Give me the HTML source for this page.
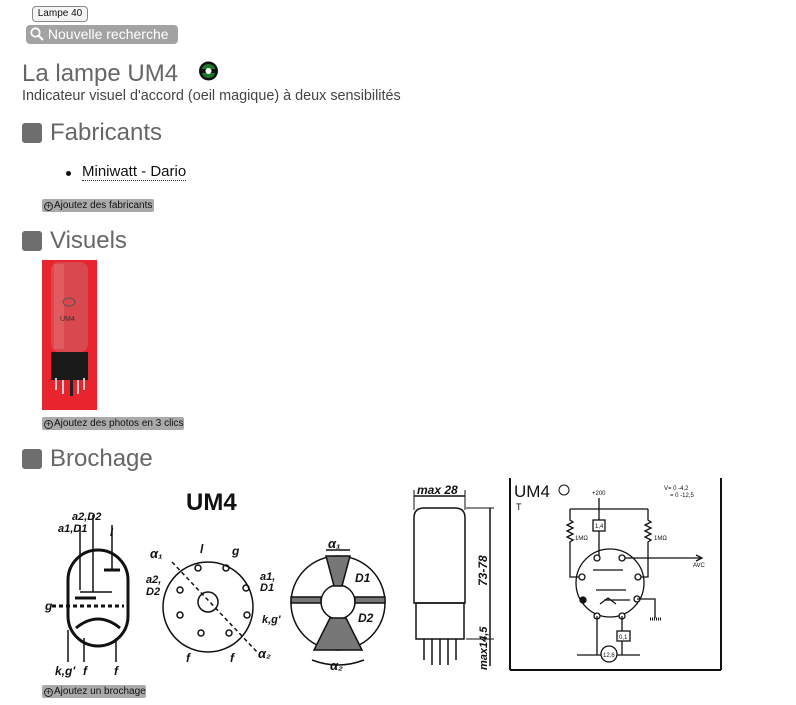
<!DOCTYPE html>
<html><head><meta charset="utf-8"><style>
*{margin:0;padding:0;box-sizing:border-box}
body{width:796px;height:705px;background:#fff;font-family:"Liberation Sans",Arial,sans-serif;position:relative;overflow:hidden;color:#333}
.a{position:absolute;white-space:nowrap}
.h{font-size:24px;color:#666;line-height:1}
.sq{position:absolute;width:20px;height:20px;background:#6e6e6e;border-radius:3px}
.btn{position:absolute;background:#aaa;color:#111;font-size:10px;height:13px;line-height:13px;padding:0 2px;border-radius:2px;white-space:nowrap}
.btn i{display:inline-block;width:9px;height:9px;border:1px solid #222;border-radius:50%;font-style:normal;font-size:9px;line-height:7px;text-align:center;margin-right:1px;vertical-align:-1px}
</style></head><body>
<div class="a" style="left:32px;top:6px;width:56px;height:16px;border:1px solid #888;border-radius:4px;background:#f4f4f4;font-size:10px;line-height:14px;text-align:center;color:#111">Lampe 40</div>
<div class="a" style="left:26px;top:25px;width:152px;height:19px;background:#a3a3a3;border-radius:4px;color:#fff;font-size:14px;line-height:19px;padding-left:4px">
<svg width="14" height="14" style="vertical-align:-2px" viewBox="0 0 14 14"><circle cx="5.5" cy="5.5" r="4.2" fill="none" stroke="#fff" stroke-width="1.8"/><line x1="8.5" y1="8.5" x2="13" y2="13" stroke="#fff" stroke-width="2"/></svg> Nouvelle recherche</div>
<div class="a" style="left:22px;top:60px;font-size:24px;color:#666;line-height:28px">La lampe UM4</div>
<svg class="a" style="left:198px;top:61px" width="21" height="20"><circle cx="10.5" cy="10" r="9.5" fill="#111"/><circle cx="10.5" cy="10" r="7" fill="#1e7a2a"/><rect x="3" y="8" width="15" height="4" fill="#111"/><circle cx="10.5" cy="10" r="3" fill="#fff"/></svg>
<div class="a" style="left:22px;top:88px;font-size:14.4px;color:#444">Indicateur visuel d'accord (oeil magique) à deux sensibilités</div>

<div class="sq" style="left:22px;top:123px"></div><div class="a h" style="left:50px;top:121px">Fabricants</div>
<div class="a" style="left:66px;top:171px;width:5px;height:5px;border-radius:50%;background:#111"></div>
<div class="a" style="left:82px;top:163px;font-size:15px;color:#111;border-bottom:1px dotted #226">Miniwatt - Dario</div>
<div class="btn" style="left:42px;top:199px;width:112px"><i>+</i>Ajoutez des fabricants</div>

<div class="sq" style="left:22px;top:231px"></div><div class="a h" style="left:50px;top:229px">Visuels</div>
<svg class="a" style="left:42px;top:260px" width="55" height="150">
<rect width="55" height="150" fill="#e8252e"/>
<rect x="9" y="2" width="37" height="90" rx="8" fill="#d8484e"/>
<rect x="12" y="4" width="10" height="85" fill="#e66a6e" opacity=".6"/>
<text x="18" y="61" font-size="7" font-family="Liberation Sans" fill="#333">UM4</text>
<ellipse cx="27" cy="42" rx="6" ry="4" fill="none" stroke="#555"/>
<rect x="9" y="92" width="37" height="28" fill="#1a1a1a"/>
<rect x="13" y="118" width="2" height="12" fill="#ccc"/><rect x="20" y="120" width="2" height="14" fill="#ccc"/><rect x="28" y="120" width="3" height="16" fill="#222"/><rect x="35" y="120" width="2" height="14" fill="#ccc"/><rect x="41" y="118" width="2" height="12" fill="#ccc"/>
</svg>
<div class="btn" style="left:42px;top:417px;width:142px"><i>+</i>Ajoutez des photos en 3 clics</div>

<div class="sq" style="left:22px;top:449px"></div><div class="a h" style="left:50px;top:447px">Brochage</div>

<svg class="a" style="left:0;top:470px" width="796" height="210" font-family="Liberation Sans" font-style="italic" font-weight="bold" fill="#111">
<text x="186" y="40" font-size="24" font-style="normal">UM4</text>
<g stroke="#111" fill="none">
<rect x="68" y="80" width="60" height="96" rx="30" stroke-width="3"/>
<path d="M76 158 Q98 140 120 158" stroke-width="3"/>
<line x1="80" y1="55" x2="80" y2="120" stroke-width="1.5"/><line x1="93" y1="45" x2="93" y2="122" stroke-width="1.5"/><line x1="112" y1="55" x2="112" y2="100" stroke-width="1.5"/>
<line x1="104" y1="100" x2="120" y2="100" stroke-width="3"/>
<line x1="80" y1="122" x2="112" y2="122" stroke-width="1.5"/>
<line x1="75" y1="128" x2="88" y2="128" stroke-width="3"/><line x1="85" y1="128" x2="96" y2="128" stroke-width="3"/>
<line x1="52" y1="136" x2="124" y2="136" stroke-width="3" stroke-dasharray="4 3"/>
<line x1="68" y1="160" x2="68" y2="192" stroke-width="1.5"/><line x1="84" y1="168" x2="84" y2="192" stroke-width="1.5"/><line x1="116" y1="168" x2="116" y2="192" stroke-width="1.5"/>
</g>
<text x="72" y="50" font-size="11">a2,D2</text><text x="58" y="62" font-size="11">a1,D1</text><text x="110" y="66" font-size="11">l</text>
<text x="45" y="140" font-size="12">g</text><text x="55" y="205" font-size="12">k,g'</text><text x="83" y="205" font-size="12">f</text><text x="114" y="205" font-size="12">f</text>
<g stroke="#111" fill="none" stroke-width="1.5">
<circle cx="208" cy="137" r="45"/><circle cx="208" cy="132" r="10"/>
<line x1="172" y1="92" x2="258" y2="183" stroke-dasharray="4 3"/>
<circle cx="198" cy="98" r="3"/><circle cx="226" cy="98" r="3"/><circle cx="180" cy="120" r="3"/><circle cx="246" cy="118" r="3"/><circle cx="180" cy="145" r="3"/><circle cx="247" cy="145" r="3"/><circle cx="201" cy="163" r="3"/><circle cx="229" cy="163" r="3"/>
</g>
<text x="150" y="88" font-size="13">α₁</text><text x="200" y="83" font-size="12">l</text><text x="232" y="85" font-size="12">g</text>
<text x="146" y="113" font-size="11">a2,</text><text x="146" y="125" font-size="11">D2</text><text x="260" y="110" font-size="11">a1,</text><text x="260" y="121" font-size="11">D1</text>
<text x="262" y="153" font-size="11">k,g'</text><text x="258" y="188" font-size="13">α₂</text><text x="186" y="192" font-size="12">f</text><text x="230" y="192" font-size="12">f</text>
<g stroke="#111" fill="none" stroke-width="1.5">
<circle cx="338" cy="133" r="47"/><circle cx="338" cy="132" r="17"/>
<path d="M326 86 L350 86 L342 116 L334 116 Z" fill="#777"/><path d="M330 148 L346 148 L362 180 L314 180 Z" fill="#777"/>
<rect x="291" y="127" width="30" height="6" fill="#777"/><rect x="355" y="127" width="30" height="6" fill="#777"/>
<path d="M312 190 Q338 200 364 190"/><line x1="326" y1="80" x2="350" y2="80"/>
</g>
<text x="328" y="78" font-size="13">α₁</text><text x="355" y="112" font-size="12">D1</text><text x="358" y="152" font-size="12">D2</text><text x="330" y="200" font-size="13">α₂</text>
<g stroke="#111" fill="none" stroke-width="1.5">
<path d="M414 133 L414 48 Q414 38 424 38 L455 38 Q465 38 465 48 L465 133 Z"/>
<rect x="416" y="133" width="48" height="36"/>
<line x1="424" y1="169" x2="424" y2="190"/><line x1="432" y1="169" x2="432" y2="195"/><line x1="440" y1="169" x2="440" y2="195"/><line x1="448" y1="169" x2="448" y2="195"/><line x1="456" y1="169" x2="456" y2="190"/>
<line x1="414" y1="26" x2="465" y2="26"/><line x1="490" y1="38" x2="490" y2="196"/><line x1="466" y1="38" x2="494" y2="38" stroke-width="1"/><line x1="466" y1="169" x2="494" y2="169" stroke-width="1"/>
<line x1="414" y1="20" x2="414" y2="40" stroke-width="1"/><line x1="465" y1="20" x2="465" y2="40" stroke-width="1"/>
</g>
<text x="417" y="24" font-size="12">max 28</text>
<text transform="translate(487 116) rotate(-90)" font-size="12">73-78</text>
<text transform="translate(487 200) rotate(-90)" font-size="11">max14,5</text>
<g stroke="#111" fill="none" stroke-width="1.3">
<line x1="510" y1="8" x2="510" y2="200" stroke-width="2"/><line x1="721" y1="8" x2="721" y2="200" stroke-width="2"/><line x1="510" y1="200" x2="721" y2="200" stroke-width="2"/>
<circle cx="610" cy="113" r="34"/>
<line x1="570" y1="39" x2="648" y2="39"/><line x1="599" y1="28" x2="599" y2="88"/>
<path d="M570 39 V50 l3 2 -6 3 6 3 -6 3 6 3 -6 3 6 3 -3 2 V107 H582"/>
<path d="M648 39 V50 l3 2 -6 3 6 3 -6 3 6 3 -6 3 6 3 -3 2 V107 H638"/>
<rect x="593" y="50" width="12" height="11" fill="#fff"/>
<line x1="622" y1="88" x2="700" y2="88"/><path d="M696 85 L702 88 L696 91"/>
<circle cx="597" cy="88" r="3" fill="#fff"/><circle cx="622" cy="88" r="3" fill="#fff"/><circle cx="582" cy="107" r="3" fill="#fff"/><circle cx="638" cy="107" r="3" fill="#fff"/><circle cx="583" cy="130" r="3" fill="#111"/><circle cx="637" cy="129" r="3" fill="#fff"/><circle cx="597" cy="146" r="3" fill="#fff"/><circle cx="622" cy="146" r="3" fill="#fff"/>
<path d="M637 129 H655 V148"/><line x1="650" y1="149" x2="662" y2="149" stroke-width="3" stroke-dasharray="1 1"/>
<path d="M597 146 V185 M622 146 V161 M622 171 V185"/><rect x="617" y="161" width="13" height="10" fill="#fff"/>
<line x1="577" y1="185" x2="640" y2="185"/><circle cx="609" cy="184" r="8" fill="#fff"/>
<path d="M593 100 h30 M596 120 h30 M604 130 h26 M600 134 l8 -6 8 6"/>
</g>
<text x="514" y="27" font-size="17" font-style="normal" font-weight="normal">UM4</text><text x="516" y="40" font-size="9" font-style="normal" font-weight="normal">T</text>
<circle cx="564" cy="20" r="5" fill="none" stroke="#111"/>
<g font-size="6" font-style="normal" font-weight="normal"><text x="592" y="25">+200</text><text x="664" y="20">V= 0 -4,2</text><text x="670" y="27">= 0 -12,5</text><text x="595" y="58">1,4</text><text x="575" y="70">1MΩ</text><text x="654" y="70">1MΩ</text><text x="693" y="97">AVC</text><text x="619" y="169">0,1</text><text x="603" y="187">12,6</text></g>
</svg>
<div class="btn" style="left:42px;top:685px;width:104px"><i>+</i>Ajoutez un brochage</div>
</body></html>
